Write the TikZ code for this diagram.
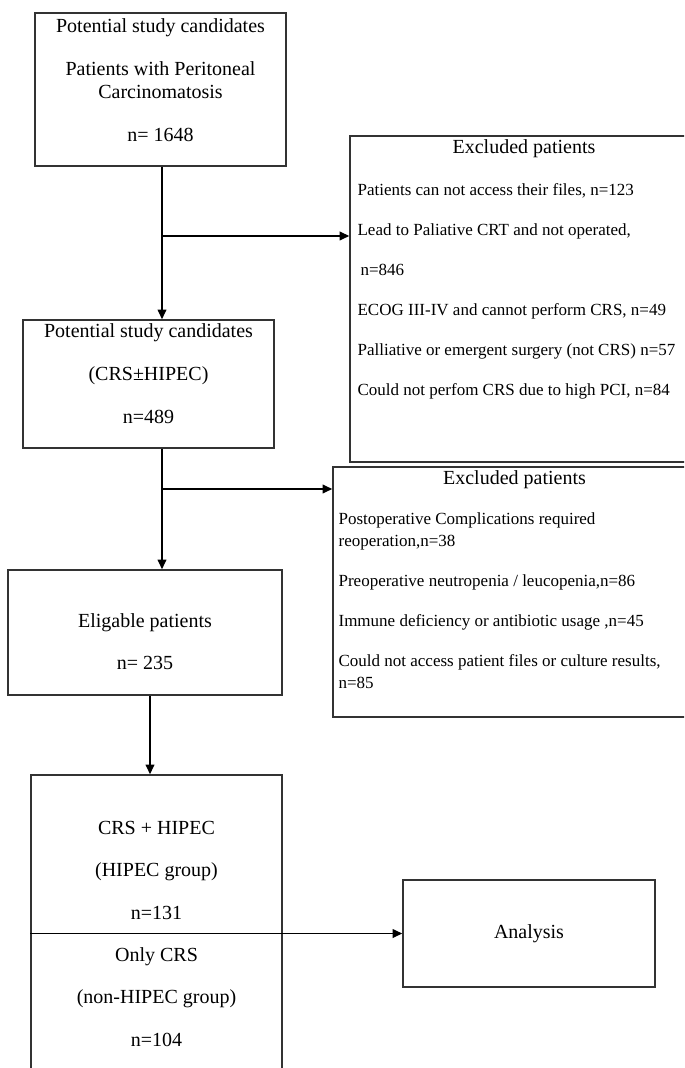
\documentclass[tikz,border=0pt]{standalone}
\usepackage{fontspec}
\setmainfont{Liberation Serif}
\usetikzlibrary{positioning,arrows.meta}

\begin{document}
\begin{tikzpicture}[x=0.5pt, y=-0.5pt,
	main node/.style={rectangle, draw=black!80, line width=0.8pt, inner sep=0pt},
	main text/.style={align=center, inner sep=0pt, font=\fontsize{10}{11.5}\selectfont},
	list text/.style={align=left, inner sep=0pt, font=\fontsize{8.5}{20}\selectfont},
	arr/.style={-{Triangle[length=4.8pt,width=4.4pt]}, line width=0.6pt}]

	\useasboundingbox (0,0) rectangle (684,1068);
	\clip (0,0) rectangle (684,1068);

	% main column
	\node[main node, minimum width=125.5pt, minimum height=76.5pt] (cand) at (160.5,89.5) {};
	\node[main node, minimum width=125.5pt, minimum height=64pt] (cand2) at (148.5,384) {};
	\node[main node, minimum width=137pt, minimum height=62.5pt] (elig) at (145,632.5) {};
	\node[main node, minimum width=125.5pt, minimum height=162.5pt] (groups) at (156.5,937.5) {};
	\node[main node, minimum width=126pt, minimum height=53.5pt, main text] (ana) at (529,933.5) {Analysis};

	% exclusion boxes
	\node[main node, minimum width=174pt, minimum height=163pt] (ex1) at (524,299) {};
	\node[main node, minimum width=181.5pt, minimum height=125pt] (ex2) at (514.5,592) {};

	% texts
	\node[main text, below=2.8pt of cand.north] (cand-t)
		{Potential study candidates\\[10pt]Patients with Peritoneal\\Carcinomatosis\\[10pt]n= 1648};
	\node[main text, below=2.2pt of cand2.north] (cand2-t)
		{Potential study candidates\\[9.8pt](CRS±HIPEC)\\[9.8pt]n=489};
	\node[main text, below=22.2pt of elig.north] (elig-t)
		{Eligable patients\\[9.5pt]n= 235};
	\node[main text, below=23.2pt of groups.north] (groups-t)
		{CRS + HIPEC\\[9.7pt](HIPEC group)\\[9.7pt]n=131\\[9.7pt]Only CRS\\[9.7pt](non-HIPEC group)\\[9.7pt]n=104};

	\node[main text, below=2.2pt of ex1.north] (ex1-title) {Excluded patients};
	\node[list text, below right=24pt and 4pt of ex1.north west] (ex1-list)
		{Patients  can not access their files,  n=123\\
		 Lead to Paliative CRT and not operated,\\
		 \hspace*{1.5pt}n=846\\
		 ECOG III-IV and cannot perform CRS, n=49\\
		 Palliative or emergent surgery (not CRS) n=57\\
		 Could not perfom CRS due to high PCI, n=84};

	\node[main text, below=2.2pt of ex2.north] (ex2-title) {Excluded patients};
	\node[list text, font=\fontsize{8.5}{11}\selectfont, below right=23pt and 3pt of ex2.north west] (ex2-list)
		{Postoperative Complications required\\reoperation,n=38\\[9pt]
		 Preoperative neutropenia / leucopenia,n=86\\[9pt]
		 Immune deficiency or antibiotic usage ,n=45\\[9pt]
		 Could not access patient files or culture results,\\n=85};

	% connectors
	\coordinate (trunk) at (162,0);
	\coordinate (drop) at (150,0);
	\coordinate (fork1) at (162,236);
	\coordinate (fork2) at (162,489);

	\draw[arr] (cand.south -| trunk) -- (cand2.north -| trunk);
	\draw[arr] (cand2.south -| trunk) -- (elig.north -| trunk);
	\draw[arr] (fork1) -- (fork1 -| ex1.west);
	\draw[arr] (fork2) -- (fork2 -| ex2.west);
	\draw[arr] (elig.south -| drop) -- (groups.north -| drop);
	\draw[arr] (groups.west |- ana.west) -- (ana.west);

\end{tikzpicture}
\end{document}
